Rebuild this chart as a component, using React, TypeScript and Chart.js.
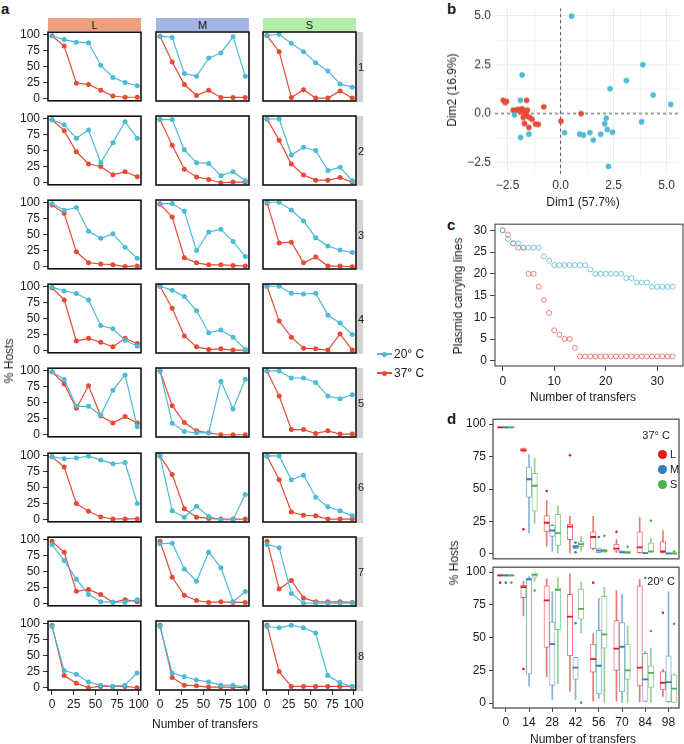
import React, { useEffect, useRef } from "react";
import { Chart, registerables } from "chart.js";

Chart.register(...registerables);

const FONT = "'Liberation Sans', Arial, Helvetica, sans-serif";
const INK = "#1a1a1a";
const RED = "#E64B35";
const BLUE = "#4DBBD5";
const PAD = 10;

// ---------------- Panel a data ----------------
const transfers = [0, 14, 28, 42, 56, 70, 84, 98];
const sizeLabels = ["L", "M", "S"];
const lineLabels = ["1", "2", "3", "4", "5", "6", "7", "8"];
const hostsTicks = [0, 25, 50, 75, 100];
const transferTicks = [0, 25, 50, 75, 100];

const hosts20_L = [
  [98, 92, 88, 87, 52, 33, 25, 20],
  [98, 90, 69, 82, 31, 62, 95, 69],
  [98, 88, 92, 55, 44, 51, 30, 13],
  [99, 93, 89, 79, 39, 34, 16, 7],
  [98, 86, 44, 44, 30, 69, 93, 12],
  [98, 95, 96, 99, 93, 87, 89, 25],
  [92, 67, 38, 14, 3, 2, 2, 6],
  [95, 27, 21, 9, 4, 2, 4, 23],
];
const hosts37_L = [
  [98, 82, 24, 22, 13, 4, 2, 2],
  [98, 81, 48, 29, 25, 12, 17, 9],
  [96, 83, 23, 6, 4, 3, 0, 1],
  [98, 79, 15, 19, 13, 6, 19, 11],
  [98, 79, 41, 76, 29, 18, 28, 18],
  [98, 82, 25, 13, 4, 1, 1, 1],
  [97, 80, 19, 22, 14, 2, 6, 3],
  [97, 19, 7, 0, 2, 2, 2, 0],
];
const hosts20_M = [
  [97, 95, 39, 35, 63, 71, 96, 35],
  [98, 98, 51, 31, 30, 11, 17, 3],
  [98, 98, 86, 25, 54, 58, 39, 16],
  [100, 94, 84, 62, 28, 32, 21, 2],
  [99, 18, 5, 3, 3, 83, 40, 86],
  [99, 14, 4, 21, 5, 0, 0, 39],
  [93, 94, 54, 35, 80, 56, 3, 19],
  [95, 23, 17, 12, 9, 4, 4, 1],
];
const hosts37_M = [
  [97, 57, 22, 5, 13, 2, 2, 2],
  [98, 58, 21, 9, 5, 0, 1, 1],
  [97, 77, 14, 6, 3, 3, 2, 1],
  [100, 66, 23, 6, 2, 3, 1, 1],
  [99, 45, 19, 6, 3, 0, 0, 0],
  [99, 70, 17, 4, 2, 1, 1, 1],
  [97, 41, 13, 5, 2, 3, 2, 2],
  [97, 16, 4, 3, 1, 1, 1, 0],
];
const hosts20_S = [
  [98, 100, 86, 73, 56, 43, 23, 18],
  [99, 99, 43, 55, 50, 19, 24, 3],
  [100, 100, 88, 71, 45, 32, 26, 22],
  [100, 100, 89, 88, 89, 55, 43, 25],
  [99, 99, 88, 88, 81, 60, 56, 62],
  [99, 99, 62, 69, 35, 20, 14, 6],
  [92, 87, 16, 1, 1, 1, 1, 1],
  [95, 93, 97, 93, 85, 19, 8, 2],
];
const hosts37_S = [
  [98, 73, 2, 14, 1, 1, 12, 1],
  [99, 66, 29, 12, 4, 4, 8, 1],
  [99, 37, 38, 6, 15, 1, 1, 0],
  [100, 46, 21, 4, 3, 1, 26, 1],
  [99, 60, 8, 8, 2, 6, 1, 1],
  [99, 62, 12, 7, 6, 1, 1, 1],
  [97, 23, 36, 9, 3, 3, 3, 2],
  [97, 25, 2, 2, 2, 2, 2, 2],
];
const hosts20 = [hosts20_L, hosts20_M, hosts20_S];
const hosts37 = [hosts37_L, hosts37_M, hosts37_S];

// ---------------- Panel b data (PCA) ----------------
const pca20_x = [0.52, 3.88, 3.1, -1.81, 2.33, 4.36, 5.19, -1.89, -2.17, -1.89, -1.49, 0.19, 0.9, 1.08, 1.38, 1.54, 1.89, 2.08, 2.15, 2.2, 2.45, 2.26, 3.82];
const pca20_y = [4.98, 2.5, 1.69, 1.98, 1.27, 0.95, 0.47, 0.68, -0.07, -1.22, -1.05, -0.98, -1.05, -1.1, -0.98, -1.35, -1.06, -0.52, -0.24, -0.81, -0.95, -2.7, -0.42];
const pca37_x = [-2.7, -2.61, -2.55, -1.6, -0.79, 0.97, 0.02, -2.12, -2.01, -1.92, -1.81, -1.73, -1.64, -1.57, -1.46, -1.34, -1.18, -1.05, -1.7, -1.49, -1.76, -2.23, -1.89, -1.57];
const pca37_y = [0.68, 0.57, 0.63, 0.68, 0.34, 0.0, -0.39, 0.17, 0.22, 0.2, 0.24, 0.12, 0.0, -0.14, -0.2, -0.3, -0.54, -0.56, -0.51, -0.71, -0.2, 0.17, 0.08, 0.17];
const pcaTicks = [-2.5, -1.25, 0, 1.25, 2.5, 3.75, 5];

// ---------------- Panel c data ----------------
const transfersC = Array.from({ length: 34 }, (_, i) => i);
const lines20 = [30, 28, 27, 27, 26, 26, 26, 26, 24, 23, 22, 22, 22, 22, 22, 22, 22, 21, 20, 20, 20, 20, 20, 20, 19, 19, 18, 18, 18, 17, 17, 17, 17, 17];
const lines37 = [30, 29, 27, 26, 26, 20, 20, 17, 14, 11, 7, 6, 5, 5, 3, 1, 1, 1, 1, 1, 1, 1, 1, 1, 1, 1, 1, 1, 1, 1, 1, 1, 1, 1];
const cTicksX = [0, 10, 20, 30];
const cTicksY = [0, 5, 10, 15, 20, 25, 30];

// ---------------- Panel d data (box summaries: [lo, q1, median, q3, hi]) ----------------
const box37_L = [[97, 97, 97.5, 98, 98], [78.5, 78.5, 80, 81.5, 81.5], [6, 17, 24, 29.5, 41], [0.5, 11, 21, 23, 29], [3, 4, 13, 17, 29], [1, 2, 4, 7.5, 11], [0.5, 1, 5, 17, 28], [0.5, 1, 2, 9.5, 18]];
const box37_M = [[97, 97, 97.5, 98, 98], [16, 43.5, 57.5, 67, 76.5], [2, 13.5, 18, 22, 23], [4, 4, 5.5, 6.5, 6.5], [1, 1, 2.5, 4, 4], [0.5, 0.5, 1.3, 2.3, 2.3], [0.3, 0.3, 0.5, 1, 1], [0, 0, 0.3, 0.5, 0.5]];
const box37_S = [[97, 97, 97.5, 98, 98], [23.5, 33, 52.5, 62, 73.5], [0.5, 6.5, 16, 30.5, 37], [2, 5.5, 7.5, 9.5, 13.5], [1.3, 1.3, 2.3, 3.5, 3.5], [0.5, 0.5, 1, 2, 2], [1, 1.3, 2, 8.5, 12], [0, 0, 0.3, 0.5, 0.5]];
const out37_L = [[1, 19], [2, 48.5], [3, 76], [5, 17]];
const out37_M = [[3, 8.7], [3, 1.3], [4, 13]];
const out37_S = [[4, 14], [5, 5.5], [6, 25.5], [7, 1.8]];

const box20_L = [[97, 97, 97.5, 98, 98], [66.5, 80.5, 88.5, 90, 93], [20, 42.5, 78.5, 89.5, 95], [9, 36, 66, 83, 99], [1.5, 23.5, 33.5, 45, 53], [1.5, 25, 41.5, 63, 86], [0.8, 13, 27, 89.5, 94.5], [5, 10, 15.5, 24, 26]];
const box20_M = [[97, 97, 97.5, 98, 98], [13, 22, 94.5, 95.5, 97], [2.5, 13.5, 45, 62, 85], [2.5, 18, 27, 35, 35], [3.5, 7, 28.5, 55.5, 80], [0, 8.5, 43, 61.5, 83], [1, 1.3, 18, 38, 39.5], [0, 1, 16, 36, 85]];
const box20_S = [[97, 97, 97.5, 98, 98], [93, 96, 98, 99.5, 99.5], [15, 56, 86.5, 88, 96], [53.5, 64, 72, 87, 92.5], [0, 42, 52.5, 81.5, 88.5], [0, 18, 25, 45, 59], [0, 12, 23, 28.5, 42], [0, 0, 11, 21.5, 22.5]];
const out20_L = [[0, 92], [1, 26], [4, 92], [7, 69]];
const out20_M = [[0, 92], [3, 61], [6, 95.5]];
const out20_S = [[0, 92], [1, 86], [3, 0.3], [6, 55], [7, 60.5]];

const boxSizeColors = ["#E41A1C", "#377EB8", "#4DAF4A"];
const boxSizeFaint = ["rgba(228,26,28,0.6)", "rgba(55,126,184,0.6)", "rgba(77,175,74,0.6)"];

// ---------------- helpers ----------------
type Area = { x: number; y: number; w: number; h: number };

const fixedTicks = (vals: number[]) => (s: any) => {
  s.ticks = vals.map((v) => ({ value: v }));
};

const framePlugin = (color: string, width: number) => ({
  id: "frame",
  afterDraw(chart: any) {
    const { ctx, chartArea: a } = chart;
    ctx.save();
    ctx.strokeStyle = color;
    ctx.lineWidth = width;
    ctx.strokeRect(a.left, a.top, a.right - a.left, a.bottom - a.top);
    ctx.restore();
  },
});

function baseOptions(scales: any) {
  return {
    animation: false,
    responsive: false,
    maintainAspectRatio: false,
    devicePixelRatio: 1,
    events: [],
    layout: { padding: PAD },
    plugins: { legend: { display: false }, tooltip: { enabled: false } },
    scales,
  };
}

function Plot({ area, yw, xh, make }: { area: Area; yw: number; xh: number; make: () => any }) {
  const ref = useRef<HTMLCanvasElement>(null);
  const left = area.x - PAD - yw;
  const top = area.y - PAD;
  const width = PAD * 2 + yw + area.w;
  const height = PAD * 2 + xh + area.h;
  useEffect(() => {
    const chart = new Chart(ref.current as HTMLCanvasElement, make());
    return () => chart.destroy();
  }, []);
  return (
    <canvas
      ref={ref}
      width={width}
      height={height}
      style={{ position: "absolute", left, top, width, height }}
    />
  );
}

function Txt({ x, y, children, size = 12, bold = false, align = "center", color = INK }: any) {
  const tx = align === "center" ? "-50%" : align === "left" ? "0" : "-100%";
  return (
    <div
      style={{
        position: "absolute",
        left: x,
        top: y,
        transform: `translate(${tx}, -50%)`,
        fontFamily: FONT,
        fontSize: size,
        fontWeight: bold ? 700 : 400,
        color,
        whiteSpace: "nowrap",
        lineHeight: 1,
      }}
    >
      {children}
    </div>
  );
}

function RotTxt({ x, y, children, size = 12 }: any) {
  return (
    <div
      style={{
        position: "absolute",
        left: x,
        top: y,
        transform: "translate(-50%, -50%) rotate(-90deg)",
        fontFamily: FONT,
        fontSize: size,
        color: INK,
        whiteSpace: "nowrap",
        lineHeight: 1,
      }}
    >
      {children}
    </div>
  );
}

const tickFont = { family: FONT, size: 12 };

// ---------------- Panel a ----------------
const colLeft = [48, 156, 263];
const colW = 93;
const rowTop = [32, 116, 200, 284, 368, 452.5, 537, 621];
const rowH = 69;

function SmallPanel({ col, row }: { col: number; row: number }) {
  const showY = col === 0;
  const showX = row === 7;
  const yw = showY ? 30 : 0;
  const xh = showX ? 22 : 0;
  const area = { x: colLeft[col], y: rowTop[row], w: colW, h: rowH };
  const make = () => ({
    type: "line",
    data: {
      datasets: [
        {
          data: transfers.map((t, i) => ({ x: t, y: hosts20[col][row][i] })),
          borderColor: BLUE,
          backgroundColor: BLUE,
          borderWidth: 1.2,
          pointRadius: 2.5,
          pointBorderWidth: 0,
          pointBackgroundColor: BLUE,
        },
        {
          data: transfers.map((t, i) => ({ x: t, y: hosts37[col][row][i] })),
          borderColor: RED,
          backgroundColor: RED,
          borderWidth: 1.2,
          pointRadius: 2.5,
          pointBorderWidth: 0,
          pointBackgroundColor: RED,
        },
      ],
    },
    options: baseOptions({
      x: {
        type: "linear",
        min: -4.6,
        max: 102.3,
        display: showX,
        afterBuildTicks: fixedTicks(transferTicks),
        afterFit: (s: any) => {
          s.height = xh;
        },
        ticks: { font: tickFont, color: INK, padding: 2, maxRotation: 0, autoSkip: false },
        grid: { drawOnChartArea: false, drawTicks: true, tickLength: 5, color: "#333", lineWidth: 1 },
        border: { display: false },
      },
      y: {
        type: "linear",
        min: -3.5,
        max: 103.5,
        display: showY,
        afterBuildTicks: fixedTicks(hostsTicks),
        afterFit: (s: any) => {
          s.width = yw;
        },
        ticks: { font: tickFont, color: INK, padding: 3, autoSkip: false },
        grid: { drawOnChartArea: false, drawTicks: true, tickLength: 5, color: "#333", lineWidth: 1 },
        border: { display: false },
      },
    }),
    plugins: [framePlugin("#111", 1.6)],
  });
  return <Plot area={area} yw={yw} xh={xh} make={make} />;
}

const stripColors = ["#F0A07F", "#A3B5E4", "#B3EDA8"];

// ---------------- Panel b ----------------
const bX = { min: -3.09, max: 5.58 };
const bY = { min: -3.085, max: 5.385 };

function PcaPanel() {
  const area = { x: 494.5, y: 7.4, w: 184, h: 166.6 };
  const fmt = (v: number) => (v % 2.5 === 0 ? v.toFixed(1).replace("-", "\u2212") : "");
  const gridColor = (c: any) => (c.tick && c.tick.value % 2.5 === 0 ? "#EBEBEB" : "#F4F4F4");
  const make = () => ({
    type: "scatter",
    data: {
      datasets: [
        {
          data: pca20_x.map((x, i) => ({ x, y: pca20_y[i] })),
          pointRadius: 2.8,
          pointBorderWidth: 0,
          backgroundColor: BLUE,
          order: 1,
        },
        {
          data: pca37_x.map((x, i) => ({ x, y: pca37_y[i] })),
          pointRadius: 2.8,
          pointBorderWidth: 0,
          backgroundColor: RED,
          order: 2,
        },
        {
          type: "line",
          data: [{ x: 0, y: bY.min }, { x: 0, y: bY.max }],
          borderColor: "#555",
          borderWidth: 1,
          borderDash: [3, 3],
          pointRadius: 0,
          order: 5,
        },
        {
          type: "line",
          data: [{ x: bX.min, y: 0 }, { x: bX.max, y: 0 }],
          borderColor: "#555",
          borderWidth: 1,
          borderDash: [3, 3],
          pointRadius: 0,
          order: 5,
        },
      ],
    },
    options: baseOptions({
      x: {
        type: "linear",
        min: bX.min,
        max: bX.max,
        afterBuildTicks: fixedTicks(pcaTicks.filter((v) => v >= bX.min && v <= bX.max)),
        afterFit: (s: any) => {
          s.height = 20;
        },
        ticks: { font: tickFont, color: "#333", padding: 4, maxRotation: 0, autoSkip: false, callback: fmt },
        grid: { color: gridColor, lineWidth: 1, drawTicks: false },
        border: { display: false },
      },
      y: {
        type: "linear",
        min: bY.min,
        max: bY.max,
        afterBuildTicks: fixedTicks(pcaTicks.filter((v) => v >= bY.min && v <= bY.max)),
        afterFit: (s: any) => {
          s.width = 40;
        },
        ticks: { font: tickFont, color: "#333", padding: 4, autoSkip: false, callback: fmt },
        grid: { color: gridColor, lineWidth: 1, drawTicks: false },
        border: { display: false },
      },
    }),
  });
  return <Plot area={area} yw={40} xh={20} make={make} />;
}

// ---------------- Panel c ----------------
function LinesPanel() {
  const area = { x: 495, y: 224, w: 188, h: 142 };
  const make = () => ({
    type: "scatter",
    data: {
      datasets: [
        {
          data: transfersC.map((x, i) => ({ x, y: lines20[i] })),
          pointRadius: 2.5,
          pointBorderWidth: 0.9,
          borderColor: "rgba(77,187,213,0.85)",
          backgroundColor: "rgba(0,0,0,0)",
        },
        {
          data: transfersC.map((x, i) => ({ x, y: lines37[i] })),
          pointRadius: 2.5,
          pointBorderWidth: 0.9,
          borderColor: "rgba(230,75,53,0.75)",
          backgroundColor: "rgba(0,0,0,0)",
        },
      ],
    },
    options: baseOptions({
      x: {
        type: "linear",
        min: -1.5,
        max: 35,
        afterBuildTicks: fixedTicks(cTicksX),
        afterFit: (s: any) => {
          s.height = 22;
        },
        ticks: { font: tickFont, color: INK, padding: 3, maxRotation: 0, autoSkip: false },
        grid: { drawOnChartArea: false, drawTicks: true, tickLength: 5, color: "#444", lineWidth: 1 },
        border: { display: false },
      },
      y: {
        type: "linear",
        min: -1.2,
        max: 31.4,
        afterBuildTicks: fixedTicks(cTicksY),
        afterFit: (s: any) => {
          s.width = 30;
        },
        ticks: { font: tickFont, color: INK, padding: 3, autoSkip: false },
        grid: { drawOnChartArea: false, drawTicks: true, tickLength: 5, color: "#444", lineWidth: 1 },
        border: { display: false },
      },
    }),
    plugins: [framePlugin("#555", 1.2)],
  });
  return <Plot area={area} yw={30} xh={22} make={make} />;
}

// ---------------- Panel d ----------------
const boxOffsets = [-0.24, 0, 0.24];

function BoxPanel({ area, boxes, outs, showX }: { area: Area; boxes: number[][][]; outs: number[][][]; showX: boolean }) {
  const xh = showX ? 22 : 0;
  const make = () => {
    const datasets: any[] = [];
    boxes.forEach((bs, s) => {
      const off = boxOffsets[s];
      datasets.push({
        type: "bar",
        data: bs.map((b, i) => ({ x: i + off, y: [b[0], b[4]] })),
        backgroundColor: boxSizeFaint[s],
        barThickness: 1,
        grouped: false,
        order: 4,
      });
      datasets.push({
        type: "bar",
        data: bs.map((b, i) => ({ x: i + off, y: [b[1], b[3] === b[1] ? b[1] + 0.4 : b[3]] })),
        backgroundColor: "#ffffff",
        borderColor: boxSizeFaint[s],
        borderWidth: 1,
        borderSkipped: false,
        barThickness: 5.5,
        grouped: false,
        order: 3,
      });
      datasets.push({
        type: "scatter",
        data: bs.map((b, i) => ({ x: i + off, y: b[2] })),
        pointStyle: "line",
        pointRadius: 2.9,
        pointBorderWidth: 1.8,
        borderColor: boxSizeColors[s],
        backgroundColor: boxSizeColors[s],
        order: 1,
      });
      datasets.push({
        type: "scatter",
        data: outs[s].map((o) => ({ x: o[0] + off, y: o[1] })),
        pointRadius: 1.3,
        pointBorderWidth: 0,
        backgroundColor: boxSizeColors[s],
        order: 1,
      });
    });
    return {
      type: "bar",
      data: { datasets },
      options: baseOptions({
        x: {
          type: "linear",
          min: -0.55,
          max: 7.45,
          offset: false,
          display: showX,
          afterBuildTicks: fixedTicks(transfers.map((_, i) => i)),
          afterFit: (s: any) => {
            s.height = xh;
          },
          ticks: {
            font: tickFont,
            color: INK,
            padding: 3,
            maxRotation: 0,
            autoSkip: false,
            callback: (v: number) => String(transfers[Math.round(v)]),
          },
          grid: { offset: false, drawOnChartArea: false, drawTicks: true, tickLength: 4, color: "#444", lineWidth: 1 },
          border: { display: false },
        },
        y: {
          type: "linear",
          min: -3.8,
          max: 103.8,
          afterBuildTicks: fixedTicks(hostsTicks),
          afterFit: (s: any) => {
            s.width = 30;
          },
          ticks: { font: tickFont, color: INK, padding: 3, autoSkip: false },
          grid: { drawOnChartArea: false, drawTicks: true, tickLength: 4, color: "#444", lineWidth: 1 },
          border: { display: false },
        },
      }),
      plugins: [framePlugin("#444", 1.2)],
    };
  };
  return <Plot area={area} yw={30} xh={xh} make={make} />;
}

function LegendDot({ x, y, color }: any) {
  return (
    <div
      style={{
        position: "absolute",
        left: x - 4.5,
        top: y - 4.5,
        width: 9,
        height: 9,
        borderRadius: "50%",
        background: color,
      }}
    />
  );
}

function LegendLine({ x, y, color }: any) {
  return (
    <>
      <div style={{ position: "absolute", left: x, top: y - 0.6, width: 15, height: 1.2, background: color }} />
      <div style={{ position: "absolute", left: x + 5, top: y - 2.5, width: 5, height: 5, borderRadius: "50%", background: color }} />
    </>
  );
}

export default function App() {
  const panels: any[] = [];
  for (let c = 0; c < 3; c++) for (let r = 0; r < 8; r++) panels.push(<SmallPanel key={`${c}-${r}`} col={c} row={r} />);
  return (
    <div
      style={{
        position: "fixed",
        left: 0,
        top: 0,
        width: 684,
        height: 744,
        background: "#fff",
        overflow: "hidden",
        fontFamily: FONT,
      }}
    >
      {/* panel letters */}
      <Txt x={1} y={8} size={15} bold align="left">a</Txt>
      <Txt x={447} y={8} size={15} bold align="left">b</Txt>
      <Txt x={447} y={224} size={15} bold align="left">c</Txt>
      <Txt x={447} y={418} size={15} bold align="left">d</Txt>

      {/* facet strips */}
      {sizeLabels.map((s, i) => (
        <div
          key={s}
          style={{
            position: "absolute",
            left: colLeft[i],
            top: 18,
            width: colW,
            height: 13,
            background: stripColors[i],
          }}
        />
      ))}
      {sizeLabels.map((s, i) => (
        <Txt key={"t" + s} x={colLeft[i] + colW / 2} y={25} size={11}>
          {s}
        </Txt>
      ))}
      {lineLabels.map((l, r) => (
        <div
          key={"g" + l}
          style={{ position: "absolute", left: 357, top: rowTop[r], width: 6, height: rowH + 1, background: "#D3D3D3" }}
        />
      ))}
      {panels}
      {lineLabels.map((l, r) => (
        <Txt key={"r" + l} x={358} y={rowTop[r] + rowH / 2} size={11} align="left">
          {l}
        </Txt>
      ))}
      <RotTxt x={9} y={361} size={12}>% Hosts</RotTxt>
      <Txt x={205} y={724} size={12}>Number of transfers</Txt>

      {/* legend for panel a */}
      <LegendLine x={377} y={354} color={BLUE} />
      <Txt x={394} y={354} size={12} align="left">20° C</Txt>
      <LegendLine x={377} y={373} color={RED} />
      <Txt x={394} y={373} size={12} align="left">37° C</Txt>

      <PcaPanel />
      <RotTxt x={452} y={90} size={12}>Dim2 (16.9%)</RotTxt>
      <Txt x={583} y={202} size={12}>Dim1 (57.7%)</Txt>

      <LinesPanel />
      <RotTxt x={458} y={296} size={12}>Plasmid carrying lines</RotTxt>
      <Txt x={583} y={397} size={12}>Number of transfers</Txt>

      <BoxPanel area={{ x: 493, y: 419, w: 186, h: 140 }} boxes={[box37_L, box37_M, box37_S]} outs={[out37_L, out37_M, out37_S]} showX={false} />
      <BoxPanel area={{ x: 493, y: 567, w: 186, h: 141 }} boxes={[box20_L, box20_M, box20_S]} outs={[out20_L, out20_M, out20_S]} showX={true} />
      <RotTxt x={454} y={563} size={12}>% Hosts</RotTxt>
      <Txt x={583} y={739} size={12}>Number of transfers</Txt>
      <Txt x={670} y={435} size={11} align="right">37° C</Txt>
      <Txt x={675} y={581} size={11} align="right">20° C</Txt>
      <LegendDot x={662} y={454} color={boxSizeColors[0]} />
      <LegendDot x={662} y={469} color={boxSizeColors[1]} />
      <LegendDot x={662} y={484} color={boxSizeColors[2]} />
      <Txt x={670} y={454} size={11} align="left">L</Txt>
      <Txt x={670} y={469} size={11} align="left">M</Txt>
      <Txt x={670} y={484} size={11} align="left">S</Txt>
    </div>
  );
}
